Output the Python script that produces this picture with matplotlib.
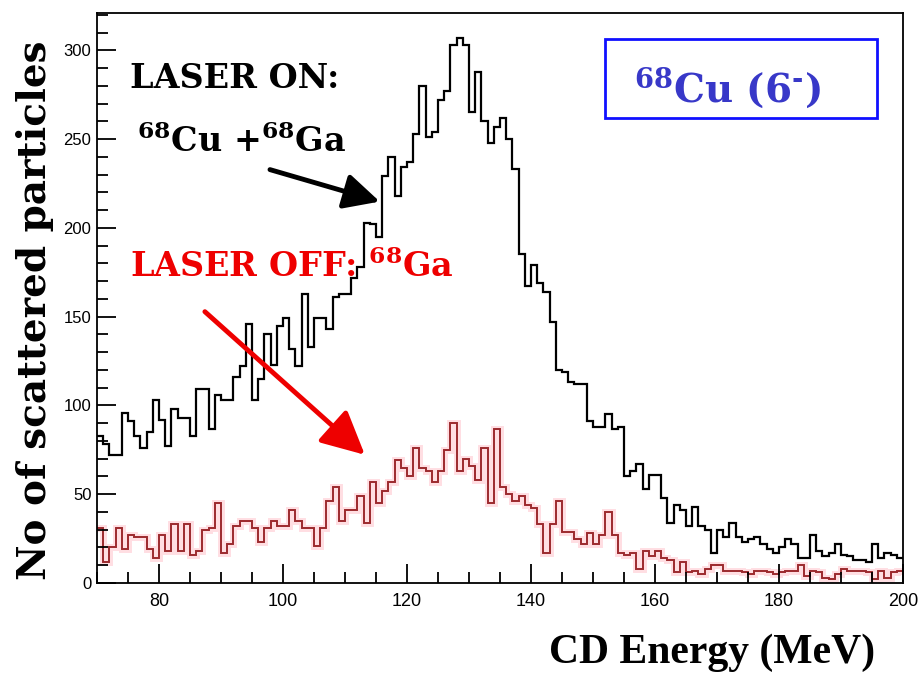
import numpy as np
import matplotlib.pyplot as plt
from matplotlib.patches import Rectangle
from matplotlib.ticker import MultipleLocator

plt.rcParams['mathtext.fontset'] = 'custom'
plt.rcParams['mathtext.rm'] = 'DejaVu Serif:bold'
plt.rcParams['mathtext.it'] = 'DejaVu Serif:bold'
plt.rcParams['mathtext.bf'] = 'DejaVu Serif:bold'

# 1 MeV bins, 70 -> 200 MeV
edges = np.arange(70, 201, 1)

# laser on: 68Cu + 68Ga
laser_on = [83, 78, 72, 72, 96, 91, 83, 76, 85, 103,
            92, 77, 98, 93, 93, 83, 109, 109, 87, 106,
            103, 103, 116, 122, 146, 103, 115, 140, 123, 145,
            149, 132, 122, 163, 133, 149, 149, 143, 161, 163,
            163, 172, 178, 203, 202, 195, 229, 240, 218, 234,
            237, 253, 280, 251, 254, 272, 277, 303, 307, 303,
            265, 288, 260, 248, 257, 262, 250, 233, 185, 167,
            179, 169, 164, 147, 120, 119, 113, 112, 112, 91,
            88, 88, 95, 87, 88, 60, 63, 67, 53, 61,
            61, 48, 34, 44, 41, 32, 43, 32, 30, 17,
            30, 26, 34, 26, 23, 25, 26, 22, 19, 17,
            20, 25, 22, 14, 14, 27, 18, 15, 17, 22,
            16, 15, 13, 13, 12, 22, 14, 17, 16, 14]

# laser off: 68Ga only
laser_off = [31, 12, 20, 31, 19, 27, 26, 26, 19, 14,
             27, 18, 33, 18, 33, 16, 18, 30, 31, 45,
             17, 22, 32, 35, 35, 31, 23, 31, 35, 32,
             32, 41, 35, 31, 31, 21, 31, 46, 54, 35,
             41, 41, 49, 34, 57, 45, 52, 57, 69, 65,
             60, 76, 65, 63, 57, 63, 75, 90, 63, 70,
             66, 58, 76, 45, 87, 54, 50, 46, 49, 44,
             42, 33, 17, 33, 46, 29, 29, 25, 22, 28,
             22, 27, 40, 27, 17, 16, 17, 8, 18, 15,
             18, 14, 13, 6, 12, 6, 7, 5, 8, 10,
             10, 7, 7, 7, 6, 5, 7, 7, 6, 5,
             6, 7, 7, 10, 4, 7, 6, 3, 2, 5,
             8, 7, 7, 7, 6, 2, 7, 3, 6, 7]

fig = plt.figure(figsize=(9.19, 6.74), dpi=100)
ax = fig.add_axes([97/919, 1 - 583/674, 806/919, 570/674])

ax.stairs(laser_off, edges, baseline=None, color='#ffc8d0', lw=5, alpha=0.6)
ax.stairs(laser_off, edges, baseline=None, color='#9c2a2e', lw=1.4)
ax.stairs(laser_on, edges, baseline=None, color='black', lw=1.6)

ax.set_xlim(70, 200)
ax.set_ylim(0, 321)
ax.xaxis.set_major_locator(MultipleLocator(20))
ax.xaxis.set_minor_locator(MultipleLocator(5))
ax.yaxis.set_major_locator(MultipleLocator(50))
ax.yaxis.set_minor_locator(MultipleLocator(10))
ax.tick_params(which='both', direction='in', top=False, right=False, width=1.3)
ax.tick_params(which='major', length=14)
ax.tick_params(which='minor', length=8)
ax.tick_params(axis='x', labelsize=13, pad=7)
ax.tick_params(axis='y', labelsize=12, pad=4)
for lab in ax.get_xticklabels() + ax.get_yticklabels():
    lab.set_family('Liberation Sans')
for s in ax.spines.values():
    s.set_linewidth(1.3)

serif = 'DejaVu Serif'
ax.text(75.3, 279, 'LASER ON:', fontsize=24, fontweight='bold', family=serif, va='baseline')
ax.text(76.5, 243, r'$^{68}$Cu +$^{68}$Ga', fontsize=24, fontweight='bold', family=serif, va='baseline')
ax.text(75.3, 172.5, r'LASER OFF: $^{68}$Ga', fontsize=24, fontweight='bold', family=serif,
        color='#ee0000', va='baseline')

ax.add_patch(Rectangle((0.630, 0.816), 0.338, 0.138, transform=ax.transAxes,
                       fill=False, ec='#1010ff', lw=2))
ax.text(0.782, 0.868, r'$^{68}$Cu (6$^{\text{-}}$)', transform=ax.transAxes, fontsize=28,
        fontweight='bold', family=serif, color='#3838c8', ha='center', va='center')

ax.annotate('', xy=(115.6, 214.8), xytext=(97.9, 232.8),
            arrowprops=dict(arrowstyle='-|>,head_length=0.9,head_width=0.45', lw=3.5,
                            color='black', mutation_scale=24, shrinkA=0, shrinkB=0))
ax.annotate('', xy=(113.2, 72.2), xytext=(87.4, 152.8),
            arrowprops=dict(arrowstyle='-|>,head_length=1.1,head_width=0.55', lw=3.5,
                            color='#ee0000', mutation_scale=24, shrinkA=0, shrinkB=0))

fig.text(712/919, 1 - 653/674, 'CD Energy (MeV)', family='Liberation Serif', fontweight='bold',
         fontsize=30, ha='center', va='center')
fig.text(35/919, 1 - 310/674, 'No of scattered particles', family=serif, fontweight='bold',
         fontsize=28, rotation=90, ha='center', va='center')

fig.savefig('out.png', dpi=100)
